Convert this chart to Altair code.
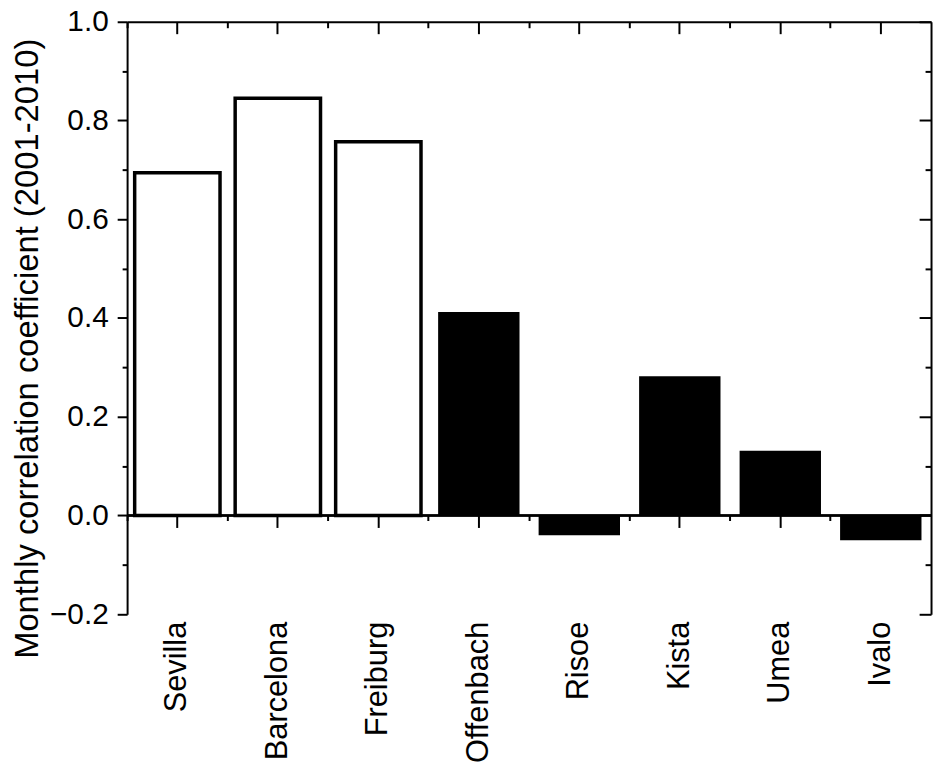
import altair as alt
import pandas as pd

cities = ["Sevilla", "Barcelona", "Freiburg", "Offenbach", "Risoe", "Kista", "Umea", "Ivalo"]
values = [0.694, 0.845, 0.757, 0.412, -0.040, 0.282, 0.131, -0.050]
filled = [False, False, False, True, True, True, True, True]
major_y = [-0.2, 0.0, 0.2, 0.4, 0.6, 0.8, 1.0]
minor_y = [-0.1, 0.1, 0.3, 0.5, 0.7, 0.9]
y_title = "Monthly correlation coefficient (2001-2010)"

df = pd.DataFrame({"city": cities, "r": values, "filled": filled})

W, H = 810, 597
ZERO_OFF = -(H * 0.2 / 1.2)
FONT = "Liberation Sans"

xs = alt.Scale(type="band", domain=cities, paddingInner=0, paddingOuter=0)
ys = alt.Scale(domain=[-0.2, 1.0], nice=False, zero=False)

def xenc(axis):
    return alt.X("city:N", scale=xs, sort=cities, axis=axis, title=None)

def yenc(axis):
    return alt.Y("r:Q", scale=ys, axis=axis, title=None, stack=None)

base = alt.Chart(df)

# white bars: bottom labels axis + left major axis with title
white = base.transform_filter("!datum.filled").mark_bar(
    width=86, fill="white", stroke="black", strokeWidth=3.5
).encode(
    x=xenc(alt.Axis(orient="bottom", labelAngle=-90, ticks=False, tickSize=0, domain=False,
                    labelPadding=7, labelFontSize=31, labelFont=FONT, labelColor="black")),
    y=alt.Y("r:Q", scale=ys, stack=None,
            title=y_title,
            axis=alt.Axis(orient="left", values=major_y, format=".1f", tickSize=10,
                          tickWidth=2, tickColor="black", domain=True, domainWidth=2,
                          domainColor="black", labelPadding=9, labelFontSize=30,
                          labelFont=FONT, labelColor="black", grid=False,
                          titleFont=FONT, titleFontSize=33, titleFontWeight="normal",
                          titleColor="black", titleAngle=-90, titleBaseline="alphabetic",
                          titleAlign="center", titleX=-90, titleY=329)),
)

black = base.transform_filter("datum.filled").mark_bar(
    width=82, fill="black", stroke=None
).encode(
    x=xenc(alt.Axis(orient="top", ticks=False, tickSize=0, labels=False, domain=True,
                    domainWidth=2, domainColor="black")),
    y=yenc(alt.Axis(orient="left", values=minor_y, tickSize=5, tickWidth=2,
                    tickColor="black", labels=False, domain=False, grid=False)),
)

zero = alt.Chart(df).mark_rule(color="black", strokeWidth=1.5).encode(
    y=alt.YDatum(0, scale=ys, axis=None)
)

inv = dict(opacity=0, size=0)

l4 = base.mark_point(**inv).encode(
    x=xenc(alt.Axis(orient="top", offset=-12, tickSize=12, tickWidth=2, tickColor="black",
                    bandPosition=0.5, labels=False, domain=False)),
    y=yenc(alt.Axis(orient="right", offset=-12, tickSize=12, tickWidth=2, tickColor="black",
                    values=major_y, labels=False, domain=False, grid=False)),
)

l5 = base.mark_point(**inv).encode(
    x=xenc(alt.Axis(orient="top", offset=-6, tickSize=6, tickWidth=2, tickColor="black",
                    bandPosition=0, labels=False, domain=False)),
    y=yenc(alt.Axis(orient="right", offset=-6, tickSize=6, tickWidth=2, tickColor="black",
                    values=minor_y, labels=False, domain=False, grid=False)),
)

l6 = base.mark_point(**inv).encode(
    x=xenc(alt.Axis(orient="bottom", offset=ZERO_OFF, tickSize=12, tickWidth=2,
                    tickColor="black", bandPosition=0.5, labels=False, domain=False)),
    y=yenc(alt.Axis(orient="right", ticks=False, tickSize=0, labels=False, domain=True,
                    domainWidth=2, domainColor="black", grid=False)),
)

l7 = base.mark_point(**inv).encode(
    x=xenc(alt.Axis(orient="bottom", offset=ZERO_OFF, tickSize=5, tickWidth=2,
                    tickColor="black", bandPosition=0, labels=False, domain=False)),
    y=yenc(None),
)

chart = alt.layer(white, black, zero, l4, l5, l6, l7).resolve_axis(
    x="independent", y="independent"
).properties(
    width=W, height=H,
    autosize=alt.AutoSizeParams(type="none"),
    padding={"left": 120, "top": 11, "right": 4, "bottom": 152},
    background="white",
).configure_view(stroke=None).configure_axis(grid=False)

chart.save("out.html", embed_options={"renderer": "svg", "actions": False})
